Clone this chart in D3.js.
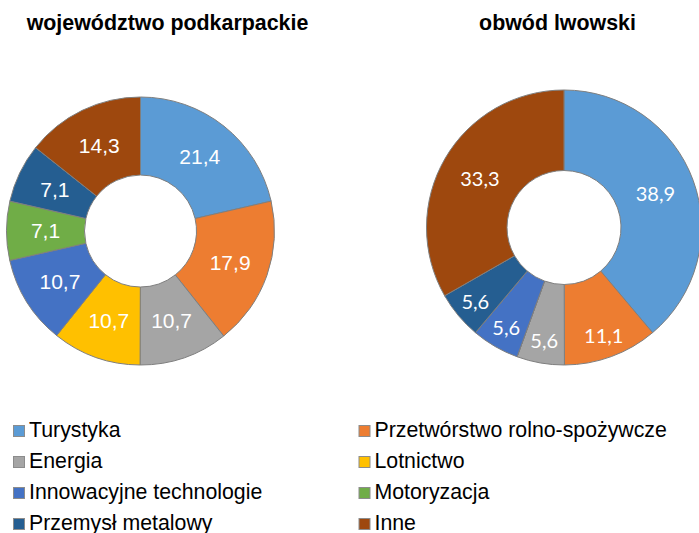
<!DOCTYPE html>
<html><head><meta charset="utf-8">
<script src="https://cdn.jsdelivr.net/npm/d3@7"></script>
<style>body{margin:0;background:#fff}svg{display:block}</style>
</head><body>
<svg id="c" width="699" height="533"></svg>
<script>
const categories = ["Turystyka","Przetwórstwo rolno-spożywcze","Energia","Lotnictwo","Innowacyjne technologie","Motoryzacja","Przemysł metalowy","Inne"];
const colors = ["#5B9BD5","#ED7D31","#A5A5A5","#FFC000","#4472C4","#70AD47","#255E91","#9E480E"];
const podkarpackie = [21.4,17.9,10.7,10.7,10.7,7.1,7.1,14.3];
const lwowski = [38.9,11.1,5.6,0,5.6,0,5.6,33.3];
const titles = ["województwo podkarpackie","obwód lwowski"];

const svg = d3.select("#c");
const pie = d3.pie().sort(null).value(d=>d);
const fmt = v => String(v).replace(".", ",");

function donut(data, cx, cy, r, ri, font, title, tx, smallR){
  const g = svg.append("g").attr("transform",`translate(${cx},${cy})`);
  const arc = d3.arc().innerRadius(ri).outerRadius(r);
  const arcs = pie(data);
  g.selectAll("path").data(arcs).join("path")
    .attr("d",arc).attr("fill",(d,i)=>colors[i])
    .attr("stroke","#7F7F7F").attr("stroke-width",1);
  const pos = d => {
    if (smallR && d.value < 12) {
      const a = (d.startAngle + d.endAngle)/2;
      return [Math.sin(a)*smallR*r, -Math.cos(a)*smallR*r];
    }
    return arc.centroid(d);
  };
  g.selectAll("text").data(arcs.filter(d=>d.value>0)).join("text")
    .attr("transform",d=>`translate(${pos(d)})`)
    .attr("text-anchor","middle").attr("dy","0.36em")
    .attr("fill","#fff").style("font",font)
    .text(d=>fmt(d.value));
  svg.append("text").attr("x",tx).attr("y",30).attr("text-anchor","middle")
    .style("font","bold 21.4px 'Liberation Sans', Arial, sans-serif").attr("fill","#000")
    .text(title);
}
donut(podkarpackie, 140.5, 231, 134, 56, "21px 'Liberation Sans', Arial, sans-serif", titles[0], 167.5, 0);
donut(lwowski, 564, 227.5, 137.5, 57, "20px Lato, 'Open Sans', sans-serif", titles[1], 557.5, 0.84);

const leg = svg.append("g");
categories.forEach((c,i)=>{
  const col = i%2, row = Math.floor(i/2);
  const x = col ? 359 : 13.5, y = 437 + row*31;
  leg.append("rect").attr("x",x).attr("y",y-11.5).attr("width",11).attr("height",11)
    .attr("fill",colors[i]).attr("stroke","#8C8C8C").attr("stroke-width",1);
  leg.append("text").attr("x",x+15.5).attr("y",y)
    .style("font","21.3px 'Liberation Sans', Arial, sans-serif").attr("fill","#000").text(c);
});
</script>
</body></html>
